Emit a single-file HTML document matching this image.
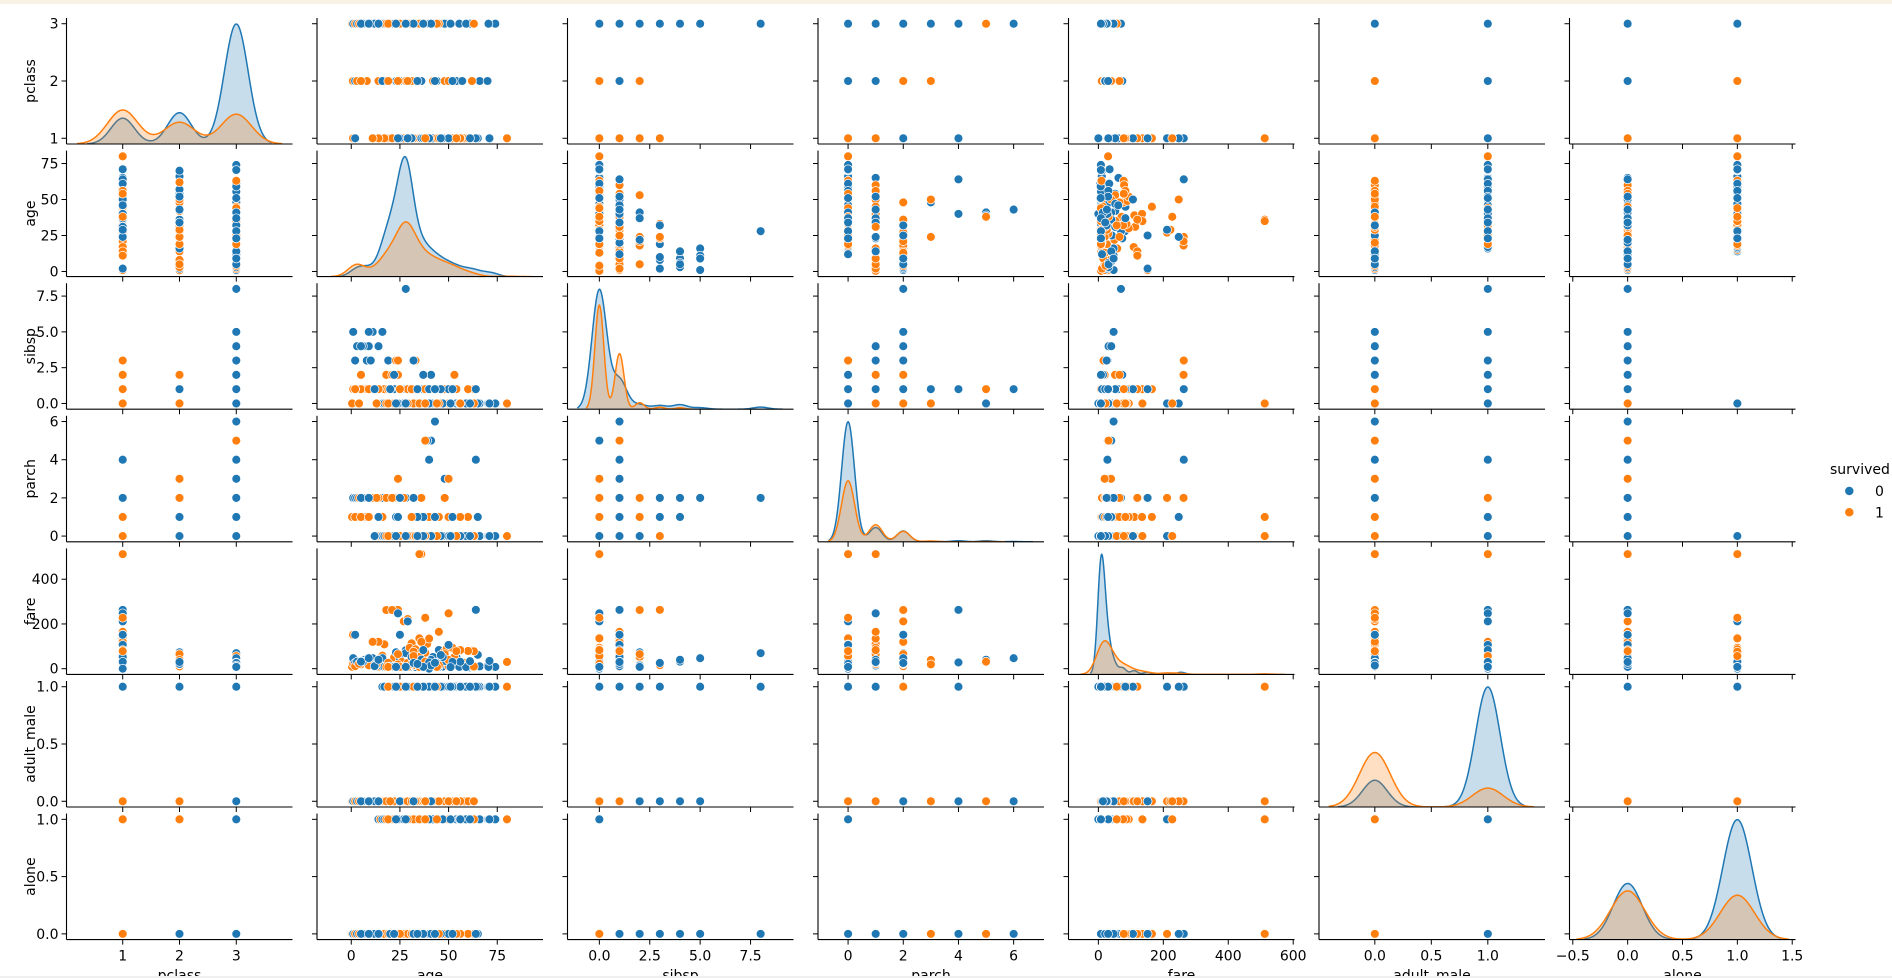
<!DOCTYPE html>
<html><head><meta charset="utf-8">
<style>
html,body{margin:0;padding:0;background:#fff;}
body{width:1892px;height:978px;overflow:hidden;position:relative;font-family:"DejaVu Sans","Liberation Sans",sans-serif;}
#topbar{position:absolute;left:0;top:0;width:1892px;height:4px;background:#f8f1e6;}
#botbar{position:absolute;left:0;top:976px;width:1892px;height:2px;background:#f0f0f0;}
svg text{font-family:"DejaVu Sans","Liberation Sans",sans-serif;}
</style></head>
<body>
<div id="topbar"></div>
<svg id="chart" width="1892" height="978" xmlns="http://www.w3.org/2000/svg" style="position:absolute;left:0;top:0"></svg>
<div id="botbar"></div>
<script>
const VARS=['pclass','age','sibsp','parch','fare','adult_male','alone'];
const XLIMS=[[0.01,3.99],[-17.6,98.5],[-1.58,9.63],[-1.09,7.1],[-92,604],[-0.494,1.506],[-0.53,1.53]];
const YLIMS=[[0.9,3.1],[-3.56,83.98],[-0.4,8.4],[-0.3,6.3],[-25.6,537.9],[-0.05,1.05],[-0.05,1.05]];
const TICKVALS=[[1,2,3],[0,25,50,75],[0,2.5,5,7.5],[0,2,4,6],[0,200,400,600],[0,0.5,1],[-0.5,0,0.5,1,1.5]];
const YTICKVALS=[[1,2,3],[0,25,50,75],[0,2.5,5,7.5],[0,2,4,6],[0,200,400],[0,0.5,1],[0,0.5,1]];
const TICKLABELS=[['1','2','3'],['0','25','50','75'],['0.0','2.5','5.0','7.5'],['0','2','4','6'],['0','200','400','600'],['0.0','0.5','1.0'],['\u22120.5','0.0','0.5','1.0','1.5']];
const YTICKLABELS=[['1','2','3'],['0','25','50','75'],['0.0','2.5','5.0','7.5'],['0','2','4','6'],['0','200','400'],['0.0','0.5','1.0'],['0.0','0.5','1.0']];

// marginal counts for KDE (values, died counts, survived counts)
const pclassVals=[1,2,3], pclassDied=[80,97,372], pclassSurv=[136,87,119];
const ageVals=[2.5,7.5,12.5,17.5,22.5,27.5,28,32.5,37.5,42.5,47.5,52.5,57.5,62.5,67.5,72.5,80];
const ageDied=[13,13,8,56,82,66,125,52,39,28,20,15,10,10,5,6,0];
const ageSurv=[27,4,8,30,36,38,52,39,28,22,17,14,7,5,0,0,1];
const sibspVals=[0,1,2,3,4,5,8], sibspDied=[398,97,15,12,15,5,7], sibspSurv=[210,112,13,4,3,0,0];
const parchVals=[0,1,2,3,4,5,6], parchDied=[445,53,40,2,4,4,1], parchSurv=[233,65,40,3,0,1,0];
const fareVals=[7.5,10,15,25,35,50,75,90,110,120,150,210,250,263,512];
const fareDied=[250,60,55,70,40,25,20,0,12,0,7,0,5,3,0];
const fareSurv=[60,25,35,65,35,30,30,20,0,15,10,8,6,0,3];
const adultVals=[0,1], adultDied=[100,449], adultSurv=[254,88];
const aloneVals=[0,1], aloneDied=[175,374], aloneSurv=[179,163];
const MARG=[[pclassVals,pclassDied,pclassSurv],[ageVals,ageDied,ageSurv],[sibspVals,sibspDied,sibspSurv],[parchVals,parchDied,parchSurv],[fareVals,fareDied,fareSurv],[adultVals,adultDied,adultSurv],[aloneVals,aloneDied,aloneSurv]];

// passengers: pclass, age, sibsp, parch, fare, adult_male, alone, survived
const passengers=[
[3,22,1,0,7.25,1,0,0],[1,38,1,0,71.28,0,0,1],[3,35,0,0,8.05,1,1,0],[3,26,0,0,7.93,0,1,1],[1,54,0,0,51.86,1,1,0],
[1,35,1,0,53.1,0,0,1],[3,2,3,1,21.08,0,0,0],[3,27,0,2,11.13,0,0,1],[3,20,0,0,8.05,1,1,0],[2,14,1,0,30.07,0,0,1],
[3,39,1,5,31.27,0,0,0],[3,4,1,1,16.7,0,0,1],[3,14,0,0,7.85,0,1,0],[1,58,0,0,26.55,0,1,1],[2,35,0,0,26,1,1,0],
[2,55,0,0,16,0,1,1],[3,8,3,1,21.08,0,0,0],[3,15,0,0,8.03,0,1,1],[1,19,3,2,263,1,0,0],[1,80,0,0,30,1,1,1],
[3,43,1,6,46.9,0,0,0],[1,35,0,0,512.33,1,1,1],[2,66,0,0,10.5,1,1,0],[1,36,0,1,512.33,1,0,1],[1,28,1,0,82.17,1,0,0],
[1,35,0,0,512.33,0,1,1],[1,42,1,0,52,1,0,0],[2,0.67,1,1,14.5,0,0,1],[3,21,0,0,7.8,1,1,0],[2,0.83,0,2,29,0,0,1],
[3,18,2,0,18,1,0,0],[3,0.42,0,1,8.52,0,0,1],[3,7,4,1,39.69,0,0,0],[1,0.92,1,2,151.55,0,0,1],[1,65,0,1,61.98,1,0,0],
[3,1,1,2,20.58,0,0,1],[1,45,1,0,83.48,1,0,0],[1,16,0,1,57.98,0,0,1],[3,4,4,2,31.27,0,0,0],[1,23,3,2,263,0,0,1],
[3,16,5,2,46.9,1,0,0],[1,24,3,2,263,0,0,1],[3,11,5,2,46.9,0,0,0],[1,22,0,2,49.5,0,0,1],[3,10,3,2,27.9,0,0,0],
[1,62,0,0,80,0,1,1],[3,1,5,2,46.9,0,0,0],[1,63,1,0,77.96,0,0,1],[3,9,4,2,31.28,0,0,0],[1,53,2,0,51.48,0,0,1],
[3,28,8,2,69.55,1,0,0],[1,48,1,0,76.73,1,0,1],[3,30,0,0,7.9,1,1,0],[1,49,1,0,89.1,1,0,1],[2,30,0,0,13,1,1,0],
[1,44,0,0,27.72,0,1,1],[2,25,1,2,41.58,1,0,0],[1,31,1,0,113.28,0,0,1],[2,54,0,0,26,1,1,0],[1,39,1,1,110.88,0,0,1],
[2,62,0,0,10.5,1,1,0],[1,18,2,2,262.38,0,0,1],[2,70,0,0,10.5,1,1,0],[1,21,2,2,262.38,0,0,1],[2,44,1,0,26,1,0,0],
[1,30,0,0,93.5,0,1,1],[2,2,1,1,26,0,0,0],[1,52,1,1,93.5,0,0,1],[2,18,0,0,11.5,1,1,0],[1,60,1,1,79.2,0,0,1],
[2,57,0,0,12.35,1,1,0],[1,33,0,0,86.5,0,1,1],[2,36,1,2,27.75,1,0,0],[1,26,0,0,30,1,1,1],[2,23,2,1,73.5,1,0,0],
[1,40,1,1,134.5,0,0,1],[2,16,0,0,10.5,1,1,0],[1,45,1,1,164.87,0,0,1],[2,42,0,0,13,1,1,0],[1,50,0,1,247.52,0,0,1],
[3,74,0,0,7.78,1,1,0],[1,35,0,0,135.63,0,1,1],[3,70.5,0,0,7.75,1,1,0],[1,32,0,0,76.29,1,1,1],[3,61,0,0,6.24,1,1,0],
[1,27,0,2,211.5,0,0,1],[3,55.5,0,0,8.05,1,1,0],[1,29,0,0,221.78,0,1,1],[3,50,0,0,8.05,1,1,0],[1,17,1,0,108.9,0,0,1],
[3,47,0,0,9,1,1,0],[1,36,1,2,120,1,0,1],[3,45,0,0,8.05,1,1,0],[1,14,1,2,120,0,0,1],[3,38,0,0,7.9,1,1,0],
[1,11,1,2,120,0,0,1],[3,33,0,0,7.9,1,1,0],[2,24,0,0,13,0,1,1],[3,26,0,0,7.9,1,1,0],[2,28,0,0,13,0,1,1],
[3,24,0,0,8.05,1,1,0],[2,34,0,1,23,0,0,1],[3,19,0,0,7.9,1,1,0],[2,3,1,1,26,0,0,1],[3,17,0,0,8.66,1,1,0],
[2,8,1,1,36.75,0,0,1],[3,32,1,1,15.5,1,0,0],[2,32,1,0,26,0,0,1],[3,29,1,0,14.45,1,0,0],[2,42,1,0,26,0,0,1],
[3,27,0,0,7.9,1,1,0],[2,50,0,0,10.5,0,1,1],[3,36,1,0,17.8,1,0,0],[2,62,0,0,10.5,1,1,1],[3,48,1,3,34.38,0,0,0],
[2,19,1,0,26,0,0,1],[3,41,0,5,39.69,0,0,0],[2,31,1,1,26.25,0,0,1],[3,39,0,5,29.13,0,0,0],[2,48,1,2,65,0,0,1],
[3,59,0,0,7.25,1,1,0],[2,24,2,1,65,0,0,1],[1,64,1,4,263,1,0,0],[2,50,0,3,39,0,0,1],[1,71,0,0,34.65,1,1,0],
[2,24,0,3,19.26,0,0,1],[1,47,0,0,52,1,1,0],[2,29,1,0,26,0,0,1],[1,36,0,0,40.13,1,1,0],[2,5,1,2,27.75,0,0,1],
[1,2,1,2,151.55,0,0,0],[3,22,0,0,7.75,0,1,1],[1,25,1,2,151.55,0,0,0],[3,18,0,0,7.78,0,1,1],[1,50,1,0,106.43,1,0,0],
[3,63,0,0,9.59,0,1,1],[1,61,0,0,33.5,1,1,0],[3,38,0,0,7.23,0,1,1],[1,46,1,0,61.18,1,0,0],[3,45,0,1,14.45,0,0,1],
[1,31,1,0,52,1,0,0],[3,33,1,1,20.53,0,0,1],[1,37,1,1,83.16,1,0,0],[3,2,1,1,11.13,0,0,1],[1,56,0,0,30.7,1,1,0],
[3,5,2,1,19.26,0,0,1],[1,24,0,1,247.52,1,0,0],[3,9,1,1,15.25,0,0,1],[1,29,0,0,211.5,1,1,0],[3,13,0,2,20.25,0,0,1],
[1,40,0,0,0,1,1,0],[3,20,1,0,9.83,0,0,1],[3,20,1,0,9.83,1,0,0],[3,25,1,0,7.78,1,0,1],[3,22,2,0,8.66,1,0,0],
[3,32,0,0,56.5,1,1,1],[3,34,1,1,14.4,1,0,0],[3,29,0,0,7.75,0,1,1],[3,3,4,2,31.39,0,0,0],[3,31,1,1,20.53,0,0,1],
[3,6,4,2,31.27,0,0,0],[3,4,0,2,22.03,0,0,1],[3,12,1,0,11.24,0,0,0],[3,38,1,5,31.28,0,0,1],[3,5,4,2,31.39,0,0,0],
[3,33,3,0,15.85,0,0,1],[3,14,4,1,39.69,0,0,0],[3,35,0,0,7.75,1,1,1],[3,9,5,2,46.9,0,0,0],[3,44,0,0,7.93,1,1,1],
[3,40,1,4,27.9,0,0,0],[3,19,0,0,7.8,1,1,1],[3,32,3,2,25.47,0,0,0],[1,56,0,1,83.16,0,0,1],[3,41,2,0,14.11,0,0,0],
[1,38,0,0,227.53,0,1,1],[3,37,2,0,7.93,1,0,0],[1,54,1,0,78.27,0,0,1],[2,43,1,1,26.25,1,0,0],[2,34,1,0,21,1,0,0],
[2,52,1,1,30,1,0,0],[3,51,0,0,7.05,1,1,0],[3,28,0,0,7.9,1,1,0],[3,23,0,0,7.85,1,1,0]
];

const COLORS=['#1f77b4','#ff7f0e'];
const NS='http://www.w3.org/2000/svg';
const svg=document.getElementById('chart');
const PX0=66.5, PW=226, PPITCH=250.5, PY0=18, PH=126, RPITCH=132.6;
function mk(tag,attrs,parent){const e=document.createElementNS(NS,tag);for(const k in attrs)e.setAttribute(k,attrs[k]);(parent||svg).appendChild(e);return e;}
function xs(j,v){const l=PX0+PPITCH*j;const[a,b]=XLIMS[j];return l+(v-a)/(b-a)*PW;}
function ys(i,v){const t=PY0+RPITCH*i;const[a,b]=YLIMS[i];return t+PH-(v-a)/(b-a)*PH;}

function kde(vals,w,grid){
  let n=0,m=0;for(let k=0;k<vals.length;k++){n+=w[k];m+=vals[k]*w[k];}m/=n;
  let v=0;for(let k=0;k<vals.length;k++)v+=w[k]*(vals[k]-m)*(vals[k]-m);v/=(n-1);
  const bw=Math.sqrt(v)*Math.pow(n,-0.2);
  const out=grid.map(x=>{let s=0;for(let k=0;k<vals.length;k++){if(!w[k])continue;const z=(x-vals[k])/bw;s+=w[k]*Math.exp(-0.5*z*z);}return s/(bw*Math.sqrt(2*Math.PI));});
  return {out,bw,n};
}

for(let i=0;i<7;i++){
  for(let j=0;j<7;j++){
    const g=mk('g',{});
    
    
    const L=PX0+PPITCH*j, T=PY0+RPITCH*i;
    const clipId='c'+i+'_'+j;
    const cp=mk('clipPath',{id:clipId},g);mk('rect',{x:L,y:T-6,width:PW,height:PH+6},cp);
    const plot=mk('g',{'clip-path':'url(#'+clipId+')'},g);
    if(i===j){
      const [vals,d0,d1]=MARG[j];
      const tot=d0.reduce((a,b)=>a+b,0)+d1.reduce((a,b)=>a+b,0);
      const curves=[d0,d1].map(w=>{
        const nz=vals.filter((v,k)=>w[k]>0);
        const pre=kde(vals,w,[0]);
        const lo=Math.min(...nz)-3*pre.bw, hi=Math.max(...nz)+3*pre.bw;
        const grid=[];for(let k=0;k<=240;k++)grid.push(lo+(hi-lo)*k/240);
        const r=kde(vals,w,grid);
        return {grid,dens:r.out.map(d=>d/tot)};
      });
      const ymax=Math.max(...curves.map(c=>Math.max(...c.dens)))*1.05;
      const yd=v=>T+PH-v/ymax*PH;
      curves.forEach((c,h)=>{
        let pts=c.grid.map((x,k)=>xs(j,x).toFixed(2)+','+yd(c.dens[k]).toFixed(2));
        const area=mk('polygon',{points:xs(j,c.grid[0]).toFixed(2)+','+(T+PH)+' '+pts.join(' ')+' '+xs(j,c.grid[c.grid.length-1]).toFixed(2)+','+(T+PH),fill:COLORS[h],'fill-opacity':0.25,stroke:'none'},plot);
        
        
        const line=mk('polyline',{points:pts.join(' '),fill:'none',stroke:COLORS[h],'stroke-width':1.5},plot);
        
        
      });
    } else {
      passengers.forEach(p=>{
        const c=mk('circle',{cx:xs(j,p[j]).toFixed(2),cy:ys(i,p[i]).toFixed(2),r:4.4,fill:COLORS[p[7]],stroke:'#fff','stroke-width':0.7},plot);
        
        
      });
    }
    mk('line',{x1:L,y1:T,x2:L,y2:T+PH,stroke:'#000','stroke-width':1.1},g);
    mk('line',{x1:L,y1:T+PH,x2:L+PW,y2:T+PH,stroke:'#000','stroke-width':1.1},g);
    TICKVALS[j].forEach((v,k)=>{const x=xs(j,v);mk('line',{x1:x,y1:T+PH,x2:x,y2:T+PH+5,stroke:'#000','stroke-width':1},g);
      if(i===6){const t=mk('text',{x:x,y:T+PH+21,'text-anchor':'middle','font-size':14,fill:'#000'},g);t.textContent=TICKLABELS[j][k];
        }});
    YTICKVALS[i].forEach((v,k)=>{const y=ys(i,v);mk('line',{x1:L-5,y1:y,x2:L,y2:y,stroke:'#000','stroke-width':1},g);
      if(j===0){const t=mk('text',{x:L-8,y:y+5,'text-anchor':'end','font-size':14,fill:'#000'},g);t.textContent=YTICKLABELS[i][k];
        }});
  }
  const yl=mk('text',{x:0,y:0,transform:'translate(35,'+(PY0+RPITCH*i+PH/2)+') rotate(-90)','text-anchor':'middle','font-size':14,fill:'#000'});
  yl.textContent=VARS[i];
  
  
  const xl=mk('text',{x:PX0+PPITCH*i+PW/2,y:980,'text-anchor':'middle','font-size':14,fill:'#000'});
  xl.textContent=VARS[i];
  
  
}
const lg=mk('g',{});


const lt=mk('text',{x:1830,y:474,'font-size':14,fill:'#000'},lg);lt.textContent='survived';

['0','1'].forEach((s,k)=>{
  const yy=491+21.3*k;
  const m=mk('circle',{cx:1849.3,cy:yy,r:4.6,fill:COLORS[k],stroke:'#fff','stroke-width':0.7},lg);
  
  const t=mk('text',{x:1875,y:yy+5,'font-size':14,fill:'#000'},lg);t.textContent=s;
  
});
</script>
</body></html>
